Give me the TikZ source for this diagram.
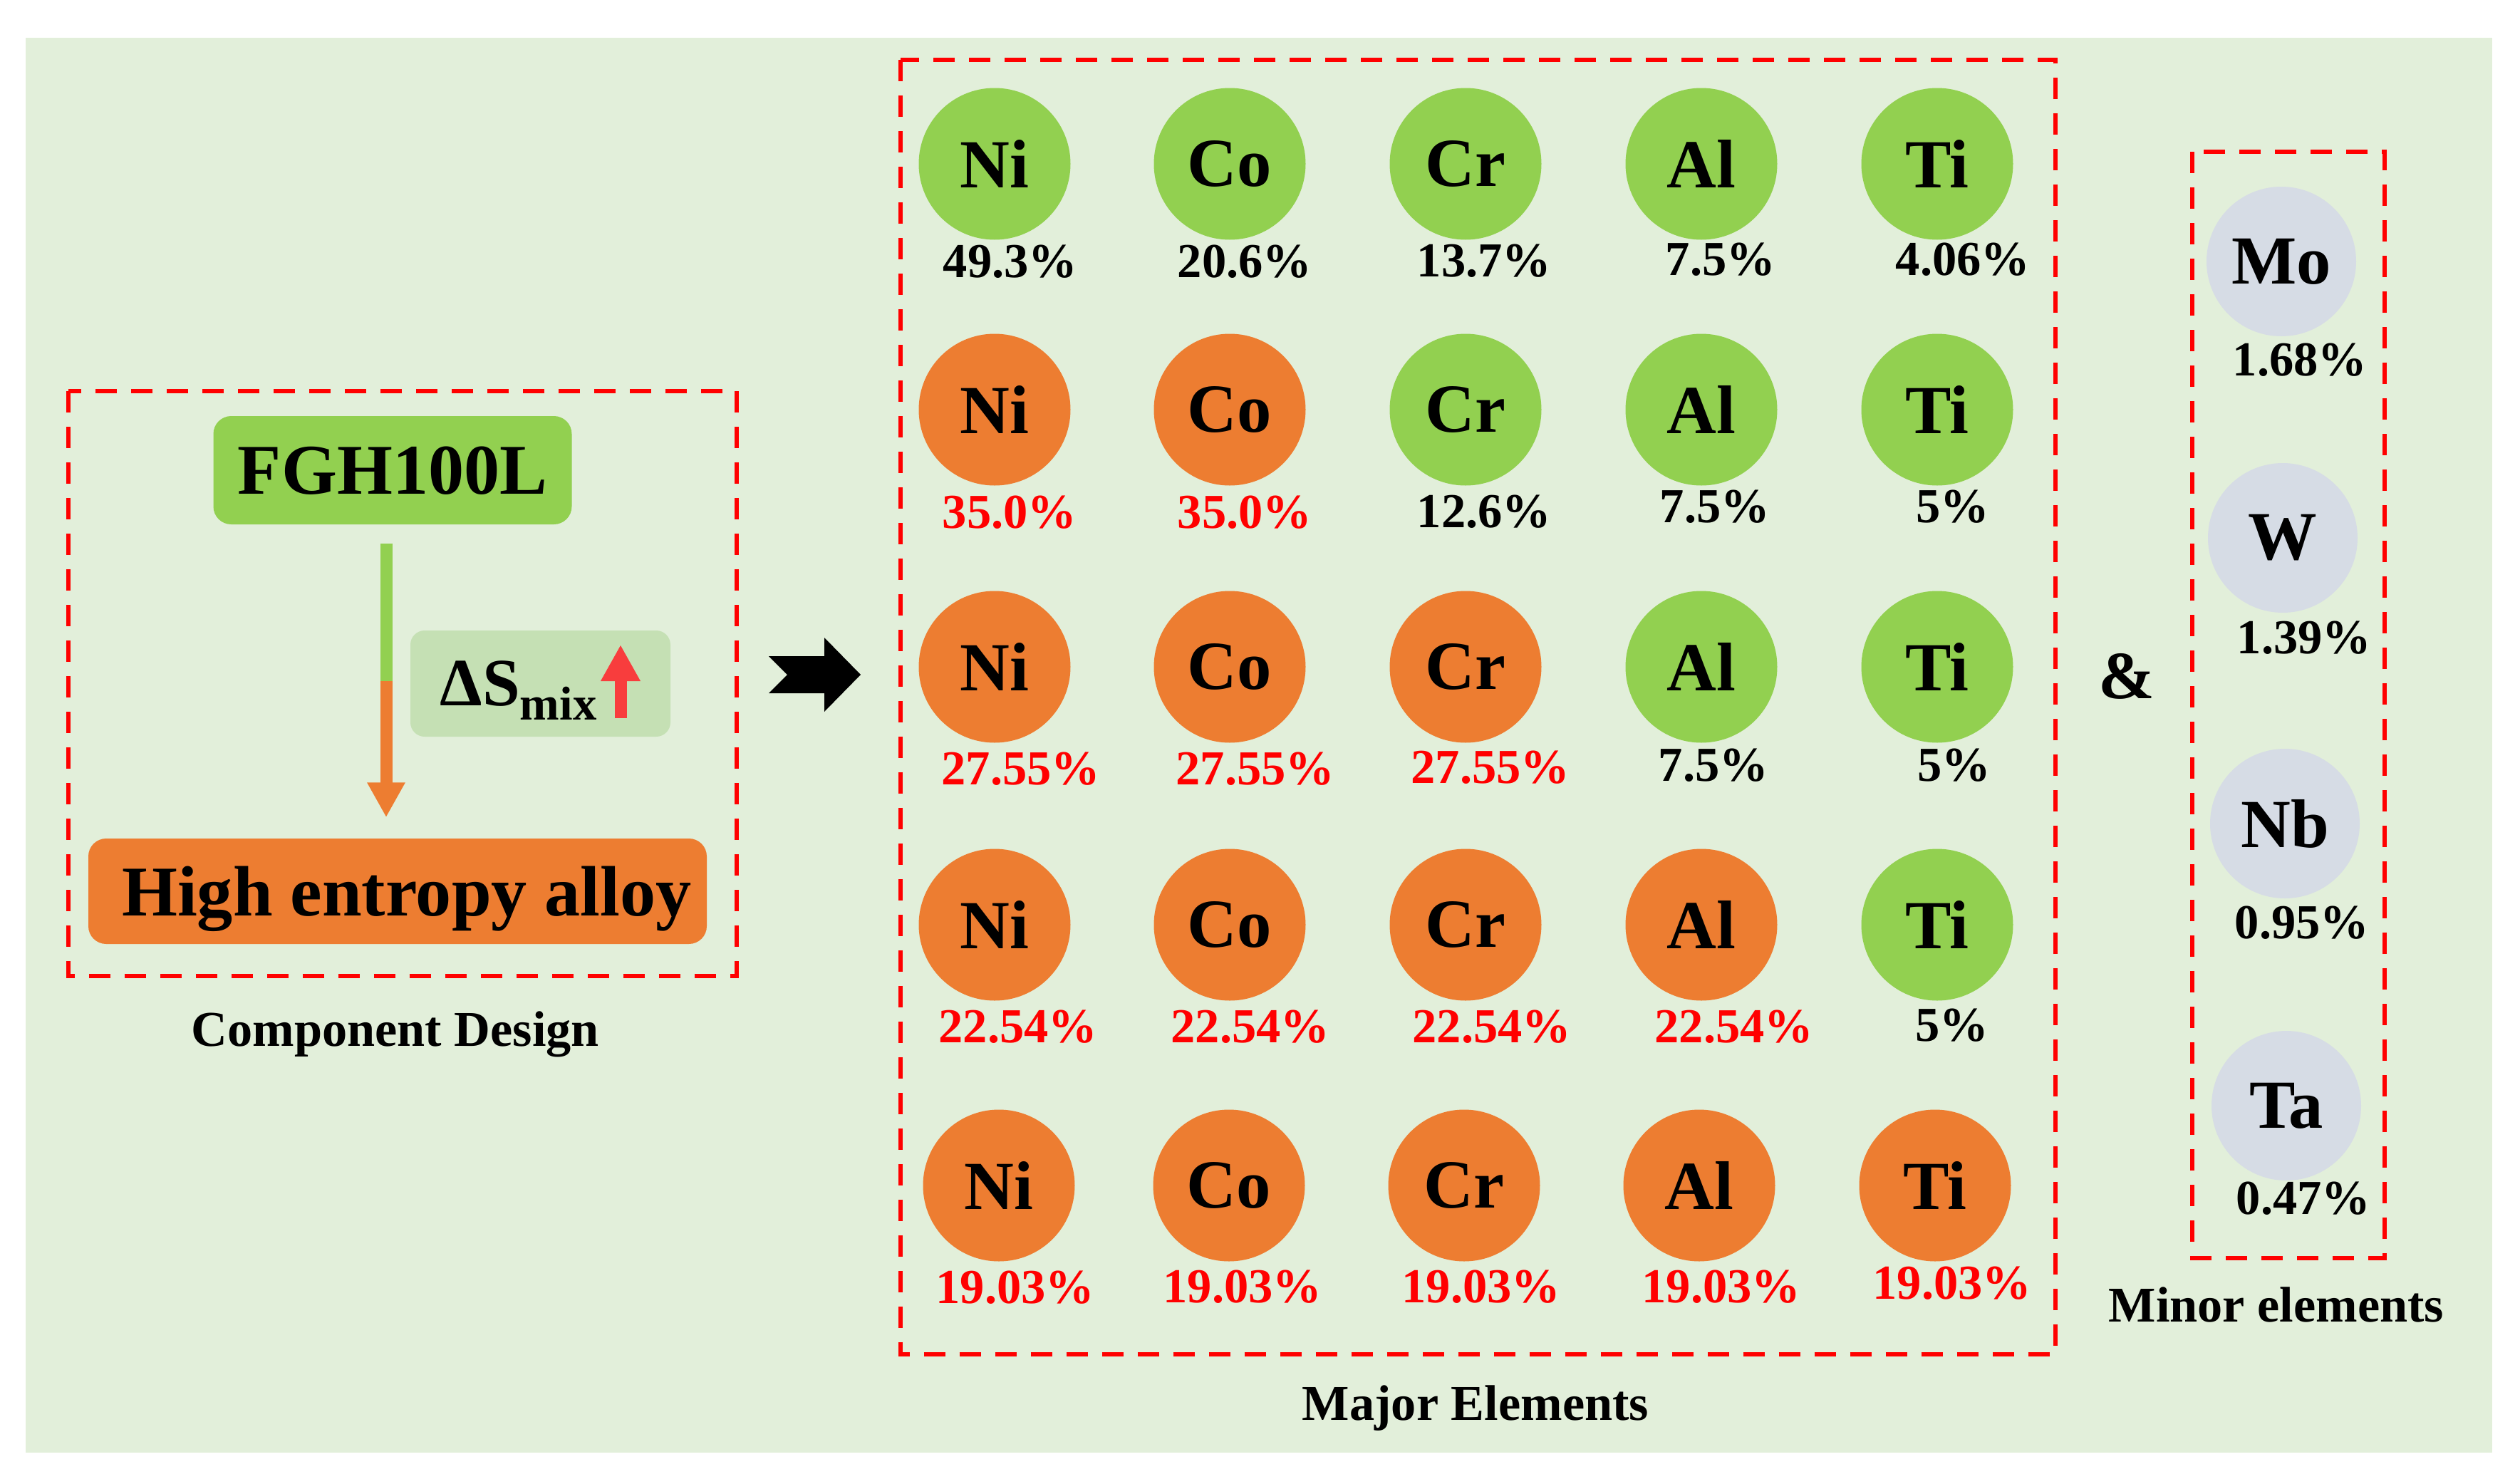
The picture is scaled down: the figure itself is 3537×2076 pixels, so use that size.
\documentclass[tikz,border=0pt]{standalone}
\usepackage{fontspec}
\setmainfont{Liberation Serif}
\usetikzlibrary{arrows.meta}
\definecolor{bgc}{HTML}{E2EFDA}
\definecolor{grn}{HTML}{92D050}
\definecolor{org}{HTML}{ED7D31}
\definecolor{dsbox}{HTML}{C5E0B4}
\definecolor{minc}{HTML}{D6DCE5}
\definecolor{redc}{HTML}{FF0000}
\definecolor{uparrowc}{HTML}{F83D3D}
\begin{document}
\begin{tikzpicture}[x=0.1mm,y=-0.1mm,
  every node/.style={font=\bfseries, inner sep=0pt},
  elem/.style={circle, minimum size=21.3mm, font=\fontsize{27.5}{30}\selectfont\bfseries},
  gel/.style={elem, fill=grn},
  oel/.style={elem, fill=org},
  mel/.style={elem, fill=minc, minimum size=21mm},
  pct/.style={anchor=base, font=\fontsize{19.5}{22}\selectfont\bfseries},
  blk/.style={pct, text=black},
  rd/.style={pct, text=redc},
  dashbox/.style={draw=redc, line width=0.65mm, dash pattern=on 3mm off 2mm},
  caption/.style={anchor=base, font=\fontsize{20}{24}\selectfont\bfseries},
  bigbox/.style={rounded corners=2.5mm, font=\fontsize{28.5}{32}\selectfont\bfseries, text depth=0pt},
]
\useasboundingbox (0,0) rectangle (3537,2076);
\fill[white] (0,0) rectangle (3537,2076);
\fill[bgc] (36,53) rectangle (3498,2039);

% ---------------- Component design ----------------
\draw[dashbox] (96,549) rectangle (1034,1370);
\node[bigbox, fill=grn, minimum width=50.3mm, minimum height=15.2mm] (fgh) at (551,660) {FGH100L};
\node[bigbox, fill=org, minimum width=86.8mm, minimum height=14.8mm] (hea) at (558,1251) {\hspace*{2.6mm}High entropy alloy};
\node[fill=dsbox, rounded corners=2mm, minimum width=36.5mm, minimum height=14.9mm] (dsb) at (758.5,959.5) {};
\node[anchor=base west, font=\fontsize{27}{30}\selectfont\bfseries] (dst) at (617,990)
  {ΔS\raisebox{-2mm}{\fontsize{19}{20}\selectfont mix}};
\coordinate (upa) at (871,1008);
\coordinate (upb) at (871,905);
\draw[uparrowc, line width=1.7mm, -{Triangle[width=5.2mm,length=5.1mm]}] (upa) -- (upb);

\coordinate (vmid) at (542,956);
\draw[grn, line width=1.7mm] ([yshift=-2.6mm]fgh.south -| vmid) -- (vmid);
\draw[org, line width=1.7mm, -{Triangle[width=5mm,length=4.9mm]}] (vmid) -- ([yshift=2.9mm]hea.north -| vmid);

\node[caption] (cd) at (555,1468) {Component Design};

% ---------------- block arrow ----------------
\fill[black] (1079,921) -- (1157,921) -- (1157,895) -- (1208,947) -- (1157,999) -- (1157,973) -- (1079,973) -- (1105,947) -- cycle;

% ---------------- Major elements ----------------
\draw[dashbox] (1264,84) rectangle (2885,1901);

\node[gel] (ni1) at (1396,230) {Ni};
\node[gel] (co1) at (1726,230) {Co};
\node[gel] (cr1) at (2057,230) {Cr};
\node[gel] (al1) at (2388,230) {Al};
\node[gel] (ti1) at (2719,230) {Ti};

\node[oel] (ni2) at (1396,575) {Ni};
\node[oel] (co2) at (1726,575) {Co};
\node[gel] (cr2) at (2057,575) {Cr};
\node[gel] (al2) at (2388,575) {Al};
\node[gel] (ti2) at (2719,575) {Ti};

\node[oel] (ni3) at (1396,936) {Ni};
\node[oel] (co3) at (1726,936) {Co};
\node[oel] (cr3) at (2057,936) {Cr};
\node[gel] (al3) at (2388,936) {Al};
\node[gel] (ti3) at (2719,936) {Ti};

\node[oel] (ni4) at (1396,1298) {Ni};
\node[oel] (co4) at (1726,1298) {Co};
\node[oel] (cr4) at (2057,1298) {Cr};
\node[oel] (al4) at (2388,1298) {Al};
\node[gel] (ti4) at (2719,1298) {Ti};

\node[oel] (ni5) at (1402,1664) {Ni};
\node[oel] (co5) at (1725,1664) {Co};
\node[oel] (cr5) at (2055,1664) {Cr};
\node[oel] (al5) at (2385,1664) {Al};
\node[oel] (ti5) at (2716,1664) {Ti};

\node[blk] (p11) at (1418,389) {49.3\%};
\node[blk] (p12) at (1747,389) {20.6\%};
\node[blk] (p13) at (2083,388) {13.7\%};
\node[blk] (p14) at (2415,386) {7.5\%};
\node[blk] (p15) at (2755,386) {4.06\%};

\node[rd] (p21) at (1417,741) {35.0\%};
\node[rd] (p22) at (1747,741) {35.0\%};
\node[blk] (p23) at (2083,740) {12.6\%};
\node[blk] (p24) at (2407,733) {7.5\%};
\node[blk] (p25) at (2741,733) {5\%};

\node[rd] (p31) at (1433,1101) {27.55\%};
\node[rd] (p32) at (1762,1101) {27.55\%};
\node[rd] (p33) at (2092,1099) {27.55\%};
\node[blk] (p34) at (2405,1096) {7.5\%};
\node[blk] (p35) at (2743,1096) {5\%};

\node[rd] (p41) at (1429,1463) {22.54\%};
\node[rd] (p42) at (1755,1463) {22.54\%};
\node[rd] (p43) at (2094,1463) {22.54\%};
\node[rd] (p44) at (2434,1463) {22.54\%};
\node[blk] (p45) at (2740,1461) {5\%};

\node[rd] (p51) at (1425,1829) {19.03\%};
\node[rd] (p52) at (1744,1828) {19.03\%};
\node[rd] (p53) at (2079,1828) {19.03\%};
\node[rd] (p54) at (2416,1828) {19.03\%};
\node[rd] (p55) at (2740,1823) {19.03\%};

\node[caption] (majcap) at (2071,1993) {Major Elements};

% ---------------- Minor elements ----------------
\node[anchor=base, font=\fontsize{27}{30}\selectfont\bfseries] (amp) at (2985,980) {\&};
\draw[dashbox] (3077,213) rectangle (3347,1766);
\node[mel] (mo) at (3202,367) {Mo};
\node[mel] (w) at (3204,755) {W};
\node[mel] (nb) at (3207,1156) {Nb};
\node[mel] (ta) at (3209,1552) {Ta};
\node[blk] (pmo) at (3228,527) {1.68\%};
\node[blk] (pw) at (3234,917) {1.39\%};
\node[blk] (pnb) at (3231,1317) {0.95\%};
\node[blk] (pta) at (3233,1704) {0.47\%};
\node[caption] (mincap) at (3195,1855) {Minor elements};
\end{tikzpicture}
\end{document}
